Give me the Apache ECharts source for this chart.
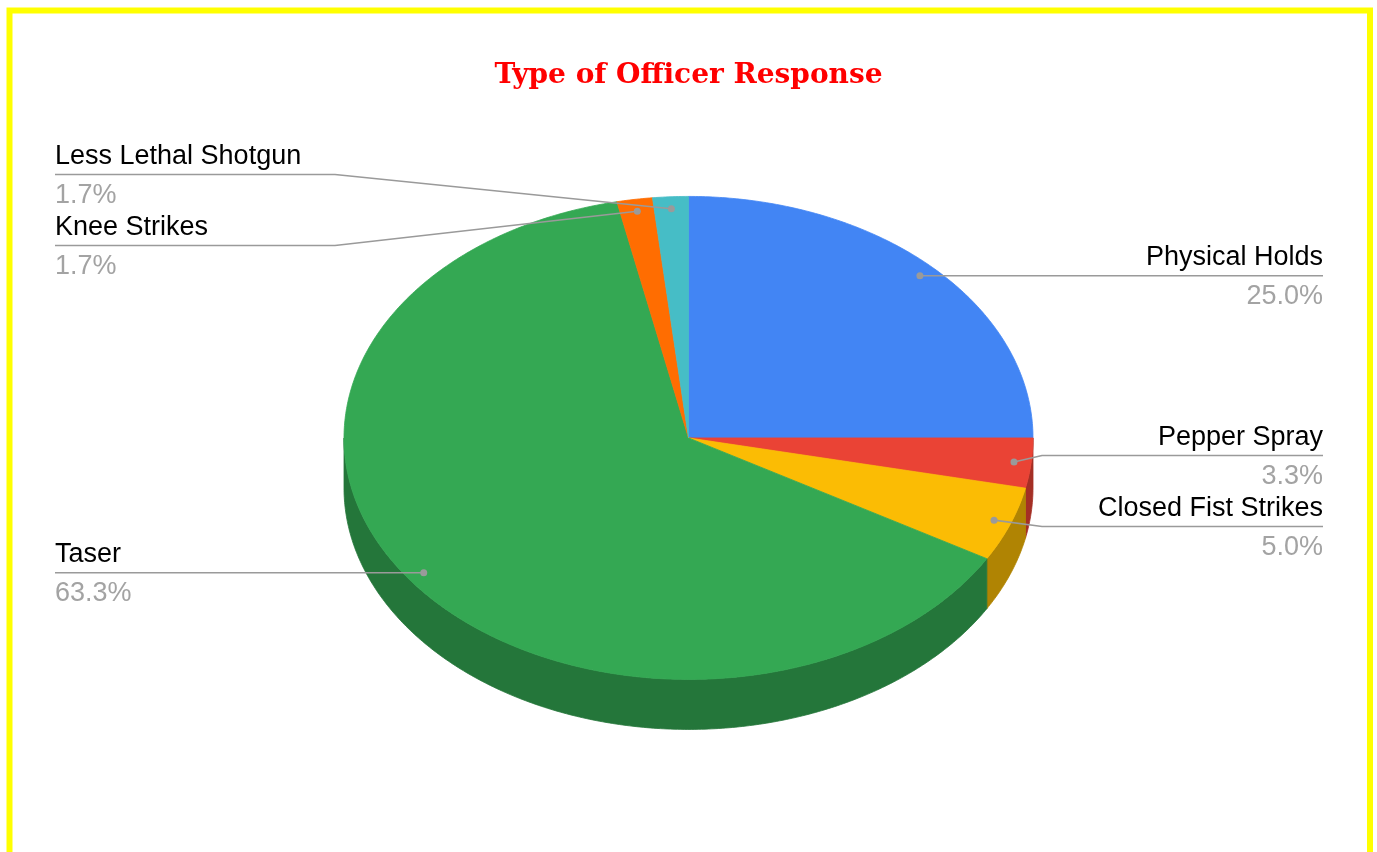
<!DOCTYPE html>
<html>
<head>
<meta charset="utf-8">
<style>
  html, body { margin: 0; padding: 0; background: #ffffff; }
  #chart { width: 1377px; height: 852px; }
</style>
<script src="https://cdn.jsdelivr.net/npm/echarts@6/dist/echarts.min.js"></script>
</head>
<body>
<div id="chart"></div>
<script>
// ---- data ----
const chartTitle = 'Type of Officer Response';
const categories = ['Physical Holds', 'Pepper Spray', 'Closed Fist Strikes', 'Taser', 'Knee Strikes', 'Less Lethal Shotgun'];
const counts = [15, 2, 3, 38, 1, 1];
const palette = ['#4285f4', '#ea4335', '#fbbc04', '#34a853', '#ff6d01', '#46bdc6'];

// ---- helpers ----
const total = counts.reduce((a, b) => a + b, 0);
const starts = [];
(function () { let c = 0; counts.forEach(v => { starts.push(c); c += v; }); })();
const percentText = counts.map(v => (v / total * 100).toFixed(1) + '%');

function shade(hex, f) {
  const n = parseInt(hex.slice(1), 16);
  const r = Math.round(((n >> 16) & 255) * f), g = Math.round(((n >> 8) & 255) * f), b = Math.round((n & 255) * f);
  return 'rgb(' + r + ',' + g + ',' + b + ')';
}

const chart = echarts.init(document.getElementById('chart'), null, { renderer: 'canvas' });
const W = chart.getWidth(), H = chart.getHeight();
const G = { cx: W * 0.5, cy: H * 0.514, rx: 344.5, ry: 241.5, depth: 50 };

function angleOf(v) { return v / total * Math.PI * 2; }
function pt(a, dy, k) {
  k = k || 1;
  return [G.cx + G.rx * k * Math.sin(a), G.cy - G.ry * k * Math.cos(a) + (dy || 0)];
}
function arc(a0, a1, dy) {
  const pts = [];
  const n = Math.max(2, Math.ceil((a1 - a0) / 0.01));
  for (let i = 0; i <= n; i++) pts.push(pt(a0 + (a1 - a0) * i / n, dy));
  return pts;
}

// ---- label layout (derived from slice geometry) ----
const MIN_GAP = 71;
const labels = counts.map((v, i) => {
  const mid = angleOf(starts[i] + v / 2);
  const anchor = pt(mid, 0, 0.95);
  return { i: i, anchor: anchor, side: Math.sin(mid) >= 0 ? 'right' : 'left', y: anchor[1] };
});
['left', 'right'].forEach(side => {
  const items = labels.filter(l => l.side === side).sort((a, b) => a.anchor[1] - b.anchor[1]);
  let clusters = items.map(it => ({ items: [it] }));
  const center = c => c.items.reduce((s, it) => s + it.anchor[1], 0) / c.items.length;
  const top = c => center(c) - (c.items.length - 1) * MIN_GAP / 2;
  const bot = c => center(c) + (c.items.length - 1) * MIN_GAP / 2;
  let merged = true;
  while (merged) {
    merged = false;
    for (let k = 0; k < clusters.length - 1; k++) {
      if (top(clusters[k + 1]) - bot(clusters[k]) < MIN_GAP) {
        clusters[k] = { items: clusters[k].items.concat(clusters[k + 1].items) };
        clusters.splice(k + 1, 1);
        merged = true;
        break;
      }
    }
  }
  clusters.forEach(c => {
    const t = top(c);
    c.items.forEach((it, j) => { it.y = t + j * MIN_GAP; });
  });
});
const byIndex = {};
labels.forEach(l => { byIndex[l.i] = l; });

const LEFT_EDGE = 55, RIGHT_EDGE = W - 54;
const LINE_COLOR = '#9a9a9a';
const LABEL_FONT = '27px "Liberation Sans", Arial, sans-serif';

function renderSide(params, api) {
  const i = params.dataIndex;
  const a0 = angleOf(starts[i]), a1 = angleOf(starts[i] + api.value(0));
  const lo = Math.max(a0, Math.PI / 2), hi = Math.min(a1, Math.PI * 1.5);
  if (lo >= hi) return null;
  const pts = arc(lo, hi, 0).concat(arc(lo, hi, G.depth).reverse());
  const c = shade(palette[i], 0.7);
  return { type: 'polygon', shape: { points: pts }, style: { fill: c, stroke: c, lineWidth: 0.8 } };
}

function renderTop(params, api) {
  const i = params.dataIndex;
  const a0 = angleOf(starts[i]), a1 = angleOf(starts[i] + api.value(0));
  const pts = [[G.cx, G.cy]].concat(arc(a0, a1, 0));
  return { type: 'polygon', shape: { points: pts }, style: { fill: palette[i], stroke: palette[i], lineWidth: 0.8 } };
}

function renderLabel(params, api) {
  const i = params.dataIndex;
  const l = byIndex[i];
  const right = l.side === 'right';
  const bendX = right ? G.cx + G.rx + 9 : G.cx - G.rx - 9;
  const edgeX = right ? RIGHT_EDGE : LEFT_EDGE;
  const align = right ? 'right' : 'left';
  return {
    type: 'group',
    children: [
      { type: 'polyline', shape: { points: [l.anchor, [bendX, l.y], [edgeX, l.y]] },
        style: { stroke: LINE_COLOR, lineWidth: 1.6, fill: null } },
      { type: 'circle', shape: { cx: l.anchor[0], cy: l.anchor[1], r: 3.5 }, style: { fill: LINE_COLOR } },
      { type: 'text', x: edgeX, y: l.y - 18,
        style: { text: categories[i], fill: '#000000', font: LABEL_FONT, textAlign: align, textVerticalAlign: 'middle' } },
      { type: 'text', x: edgeX, y: l.y + 21,
        style: { text: percentText[i], fill: '#a3a3a3', font: LABEL_FONT, textAlign: align, textVerticalAlign: 'middle' } }
    ]
  };
}

const seriesData = counts.map((v, i) => ({ value: [v], name: categories[i] }));

chart.setOption({
  animation: false,
  backgroundColor: '#ffffff',
  title: {
    text: chartTitle,
    left: 'center',
    top: 57,
    textStyle: { color: '#ff0000', fontFamily: '"DejaVu Serif", serif', fontWeight: 'bold', fontSize: 28 }
  },
  graphic: [
    { type: 'rect', shape: { x: 9.5, y: 10.5, width: W - 16.5, height: H + 40 },
      style: { fill: null, stroke: '#ffff00', lineWidth: 6 }, z: 100 }
  ],
  series: [
    { type: 'custom', coordinateSystem: 'none', renderItem: renderSide, data: seriesData, z: 1, silent: true },
    { type: 'custom', coordinateSystem: 'none', renderItem: renderTop, data: seriesData, z: 2, silent: true },
    { type: 'custom', coordinateSystem: 'none', renderItem: renderLabel, data: seriesData, z: 3, silent: true }
  ]
});
</script>
</body>
</html>
